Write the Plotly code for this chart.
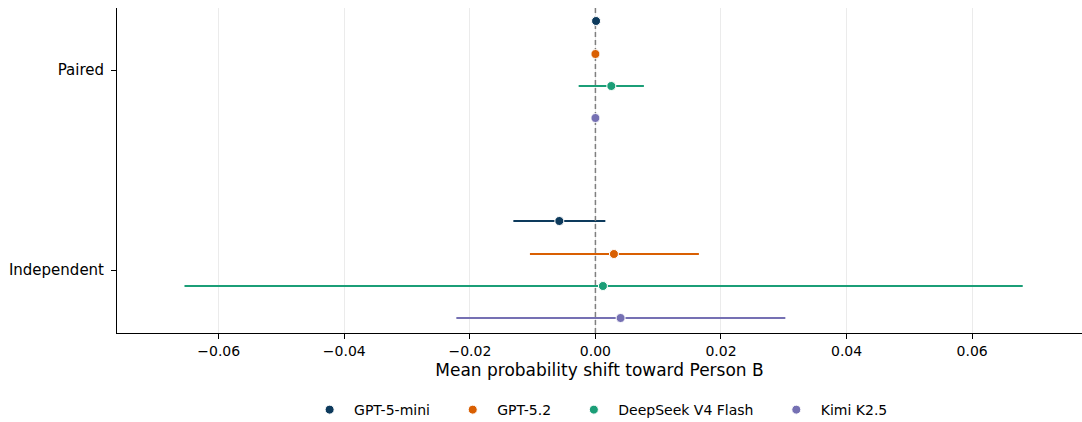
import plotly.graph_objects as go

conditions = ["Paired", "Independent"]
models = ["GPT-5-mini", "GPT-5.2", "DeepSeek V4 Flash", "Kimi K2.5"]
colors = ["#0d3a5c", "#d95f02", "#1b9e77", "#7570b3"]

# mean shift per model, [Paired, Independent]
means = {
    "GPT-5-mini": [0.0001, -0.00575],
    "GPT-5.2": [0.0, 0.00295],
    "DeepSeek V4 Flash": [0.00253, 0.00120],
    "Kimi K2.5": [0.0, 0.00401],
}
ci_low = {
    "GPT-5-mini": [0.0001, -0.01307],
    "GPT-5.2": [0.0, -0.01043],
    "DeepSeek V4 Flash": [-0.00267, -0.06545],
    "Kimi K2.5": [0.0, -0.02215],
}
ci_high = {
    "GPT-5-mini": [0.0001, 0.00158],
    "GPT-5.2": [0.0, 0.01648],
    "DeepSeek V4 Flash": [0.00772, 0.06806],
    "Kimi K2.5": [0.0, 0.03025],
}
offsets = [-0.245, -0.08, 0.08, 0.24]

xticks = [-0.06, -0.04, -0.02, 0.0, 0.02, 0.04, 0.06]
xticklabels = ["−0.06", "−0.04", "−0.02", "0.00", "0.02", "0.04", "0.06"]

YMIN, YMAX = -0.31, 1.315

fig = go.Figure()
# error bars first
for m, c, off in zip(models, colors, offsets):
    xs = means[m]
    ys = [i + off for i in range(len(conditions))]
    plus = [h - x for h, x in zip(ci_high[m], xs)]
    minus = [x - l for l, x in zip(ci_low[m], xs)]
    fig.add_trace(go.Scatter(
        x=xs, y=ys, mode="markers", showlegend=False, hoverinfo="skip",
        marker=dict(color=c, size=1, opacity=0),
        error_x=dict(type="data", symmetric=False, array=plus, arrayminus=minus,
                     color=c, thickness=2, width=0),
    ))

# zero reference line (above error bars, below markers)
fig.add_trace(go.Scatter(
    x=[0, 0], y=[YMIN, YMAX], mode="lines", showlegend=False, hoverinfo="skip",
    line=dict(color="#7f7f7f", width=1.5, dash="5px,3px"),
))

# markers
for m, c, off in zip(models, colors, offsets):
    xs = means[m]
    ys = [i + off for i in range(len(conditions))]
    fig.add_trace(go.Scatter(
        x=xs, y=ys, mode="markers", name="\u00a0" + m + "\u00a0" * 4,
        marker=dict(color=c, size=9, line=dict(color="white", width=1)),
    ))

fig.update_layout(
    width=1082, height=422,
    margin=dict(l=117, r=0, t=8, b=89, autoexpand=False),
    plot_bgcolor="white", paper_bgcolor="white",
    font=dict(family="DejaVu Sans", size=14, color="black"),
    showlegend=True,
    legend=dict(orientation="h", x=0.511, xanchor="center", y=-0.237, yanchor="middle",
                font=dict(size=14), itemwidth=30),
    xaxis=dict(
        range=[-0.0762, 0.0775], tickvals=xticks, ticktext=xticklabels,
        tickfont=dict(size=14),
        showgrid=True, gridcolor="#ebebeb", gridwidth=1, zeroline=False,
        showline=True, linecolor="black", linewidth=1,
        ticks="outside", ticklen=5, tickcolor="black",
        title=dict(text="Mean probability shift toward Person B", font=dict(size=17), standoff=6),
    ),
    yaxis=dict(
        range=[YMAX, YMIN], tickvals=[0, 1], ticktext=conditions,
        tickfont=dict(size=15), ticklabelstandoff=4,
        showgrid=False, zeroline=False,
        showline=True, linecolor="black", linewidth=1,
        ticks="outside", ticklen=5, tickcolor="black",
    ),
)

fig.write_html("out.html")
